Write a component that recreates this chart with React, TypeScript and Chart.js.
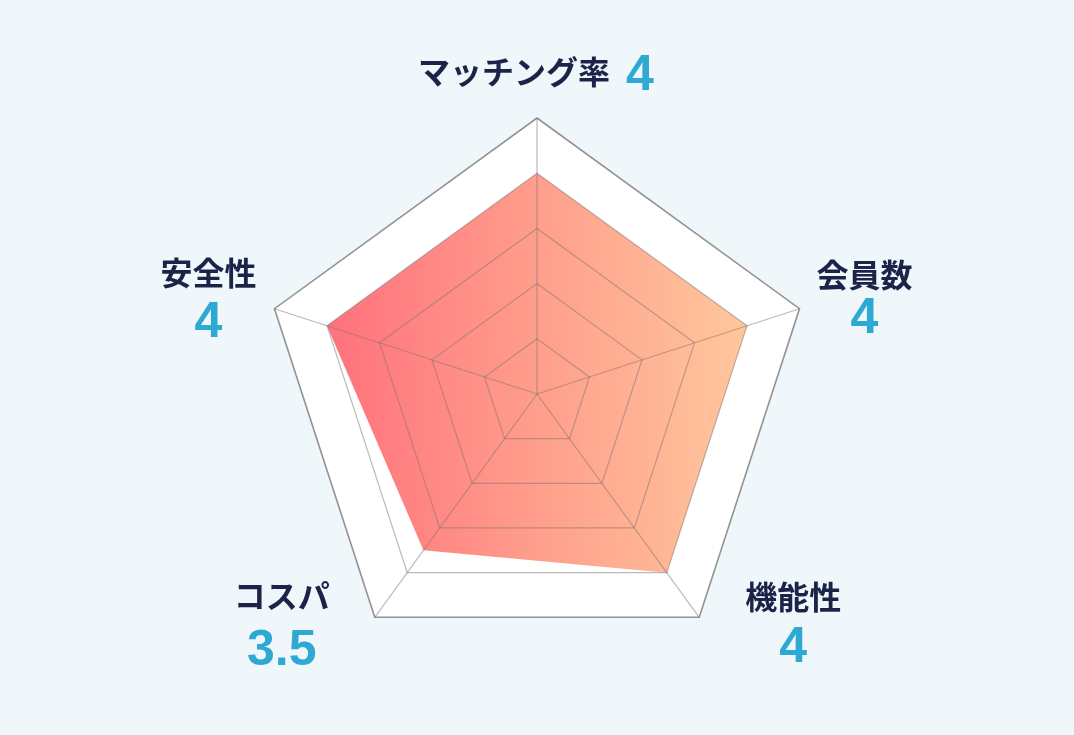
import React, { useEffect, useRef } from "react";
import { Chart, registerables } from "chart.js";

Chart.register(...registerables);

const categories = ["マッチング率", "会員数", "機能性", "コスパ", "安全性"];
const scores = [4, 4, 4, 3.5, 4];
const scoreLabels = ["4", "4", "4", "3.5", "4"];
const scaleMax = 5;
const scaleStep = 1;

const BG = "#F0F7FA";
const NAVY = "#1B2348";
const CYAN = "#2EA9D4";
const JP_FONT = 'bold 32px "Noto Sans CJK JP", "Noto Sans", sans-serif';
const NUM_FONT = 'bold 50px "Liberation Sans", Arial, sans-serif';

// label placement relative to the outer vertex of each axis: [dx, textDy, numberBaselineDy]
const labelOffsets: number[][] = [
  [-1, -46, 0],
  [65, -34, 24],
  [94, -20, 45],
  [-93, -21, 48],
  [-66, -36, 28],
];

const whitePolygon = {
  id: "whitePolygon",
  beforeDatasetsDraw(chart: any) {
    const scale = chart.scales.r;
    const ctx = chart.ctx;
    ctx.save();
    ctx.beginPath();
    for (let i = 0; i < categories.length; i++) {
      const p = scale.getPointPosition(i, scale.drawingArea);
      if (i === 0) ctx.moveTo(p.x, p.y);
      else ctx.lineTo(p.x, p.y);
    }
    ctx.closePath();
    ctx.fillStyle = "#FFFFFF";
    ctx.fill();
    ctx.restore();
  },
};

const axisLabels = {
  id: "axisLabels",
  afterDraw(chart: any) {
    const scale = chart.scales.r;
    const ctx = chart.ctx;
    ctx.save();
    for (let i = 0; i < categories.length; i++) {
      const p = scale.getPointPosition(i, scale.drawingArea);
      const [dx, tdy, ndy] = labelOffsets[i];
      const cx = p.x + dx;
      if (i === 0) {
        ctx.font = JP_FONT;
        const tw = ctx.measureText(categories[i]).width;
        ctx.font = NUM_FONT;
        const nw = ctx.measureText(scoreLabels[i]).width;
        const gap = 16;
        const start = cx - (tw + gap + nw) / 2;
        ctx.font = JP_FONT;
        ctx.fillStyle = NAVY;
        ctx.textAlign = "left";
        ctx.textBaseline = "middle";
        ctx.fillText(categories[i], start, p.y + tdy);
        ctx.font = NUM_FONT;
        ctx.fillStyle = CYAN;
        ctx.textBaseline = "alphabetic";
        ctx.fillText(scoreLabels[i], start + tw + gap, p.y + tdy + 18);
      } else {
        ctx.textAlign = "center";
        ctx.font = JP_FONT;
        ctx.fillStyle = NAVY;
        ctx.textBaseline = "middle";
        ctx.fillText(categories[i], cx, p.y + tdy);
        ctx.font = NUM_FONT;
        ctx.fillStyle = CYAN;
        ctx.textBaseline = "alphabetic";
        ctx.fillText(scoreLabels[i], cx, p.y + ndy);
      }
    }
    ctx.restore();
  },
};

export default function App() {
  const ref = useRef<HTMLCanvasElement | null>(null);
  useEffect(() => {
    document.body.style.margin = "0";
    document.body.style.background = BG;
    const canvas = ref.current;
    if (!canvas) return;
    const chart = new Chart(canvas, {
      type: "radar",
      data: {
        labels: categories,
        datasets: [
          {
            data: scores,
            borderWidth: 0,
            pointRadius: 0,
            fill: true,
            backgroundColor: (c: any) => {
              const ch = c.chart;
              const scale = ch.scales.r;
              if (!scale || !ch.chartArea) return "#FF9A8A";
              let minX = Infinity;
              let maxX = -Infinity;
              scores.forEach((v, i) => {
                const p = scale.getPointPositionForValue(i, v);
                minX = Math.min(minX, p.x);
                maxX = Math.max(maxX, p.x);
              });
              const g = ch.ctx.createLinearGradient(minX, 0, maxX, 0);
              g.addColorStop(0, "#FF717C");
              g.addColorStop(0.5, "#FF9E8C");
              g.addColorStop(1, "#FFC79C");
              return g;
            },
          },
        ],
      },
      options: {
        animation: false,
        responsive: false,
        layout: { padding: { top: 118, bottom: 65, left: 0, right: 0 } },
        plugins: { legend: { display: false }, tooltip: { enabled: false } },
        scales: {
          r: {
            min: 0,
            max: scaleMax,
            ticks: { display: false, stepSize: scaleStep },
            pointLabels: { display: false },
            grid: {
              z: 1,
              color: (c: any) =>
                c.index === scaleMax / scaleStep ? "rgba(120,120,120,0.8)" : "rgba(125,115,115,0.5)",
              lineWidth: (c: any) => (c.index === scaleMax / scaleStep ? 1.6 : 1.2),
            },
            angleLines: { color: "rgba(125,115,115,0.5)", lineWidth: 1.2 },
          },
        },
      },
      plugins: [whitePolygon, axisLabels],
    });
    return () => chart.destroy();
  }, []);
  return (
    <div style={{ position: "fixed", left: 0, top: 0, width: 1074, height: 735, background: BG }}>
      <canvas ref={ref} width={1074} height={735} style={{ display: "block" }} />
    </div>
  );
}
